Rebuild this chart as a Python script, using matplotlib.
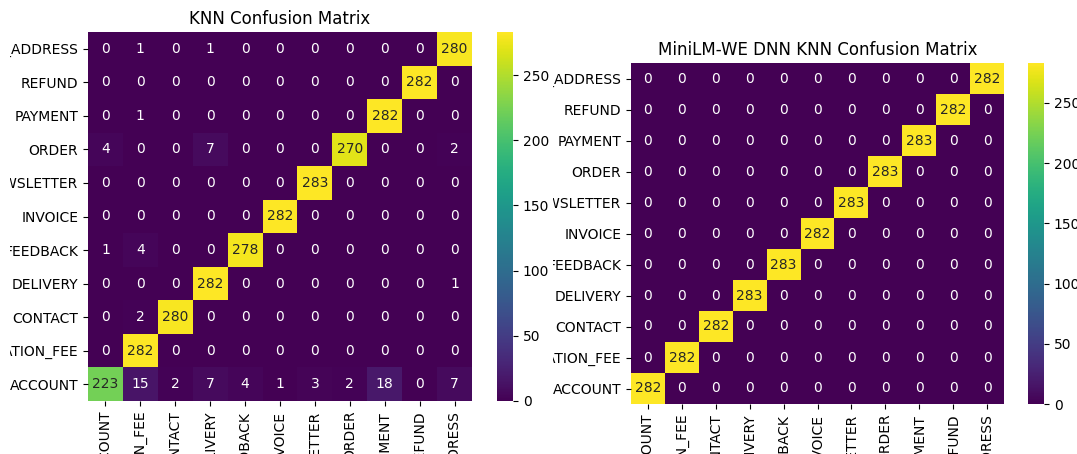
import numpy as np
import matplotlib
matplotlib.use("Agg")
import matplotlib.pyplot as plt
from matplotlib import colors as mcolors
from matplotlib.transforms import Bbox, TransformedBbox

etiquetas = ["ACCOUNT", "CANCELLATION_FEE", "CONTACT", "DELIVERY", "FEEDBACK",
             "INVOICE", "NEWSLETTER", "ORDER", "PAYMENT", "REFUND",
             "SHIPPING_ADDRESS"]

# filas = clase real, columnas = clase predicha
cm_knn = np.array([
    [223, 15, 2, 7, 4, 1, 3, 2, 18, 0, 7],
    [0, 282, 0, 0, 0, 0, 0, 0, 0, 0, 0],
    [0, 2, 280, 0, 0, 0, 0, 0, 0, 0, 0],
    [0, 0, 0, 282, 0, 0, 0, 0, 0, 0, 1],
    [1, 4, 0, 0, 278, 0, 0, 0, 0, 0, 0],
    [0, 0, 0, 0, 0, 282, 0, 0, 0, 0, 0],
    [0, 0, 0, 0, 0, 0, 283, 0, 0, 0, 0],
    [4, 0, 0, 7, 0, 0, 0, 270, 0, 0, 2],
    [0, 1, 0, 0, 0, 0, 0, 0, 282, 0, 0],
    [0, 0, 0, 0, 0, 0, 0, 0, 0, 282, 0],
    [0, 1, 0, 1, 0, 0, 0, 0, 0, 0, 280],
])

diag_minilm = [282, 282, 282, 283, 283, 282, 283, 283, 283, 282, 282]
cm_minilm = np.diag(diag_minilm)


def luminancia(rgba):
    rgb = np.array(rgba[:3])
    rgb = np.where(rgb <= .03928, rgb / 12.92, ((rgb + .055) / 1.055) ** 2.4)
    return rgb.dot([.2126, .7152, .0722])


def dibujar_matriz(fig, rect, rect_cb, cm, titulo, borde_izq):
    ax = fig.add_axes(rect)
    cax = fig.add_axes(rect_cb)
    n = cm.shape[0]
    cmap = plt.get_cmap("viridis")
    norm = mcolors.Normalize(vmin=cm.min(), vmax=cm.max())
    mesh = ax.pcolormesh(np.arange(n + 1), np.arange(n + 1), cm,
                         cmap=cmap, norm=norm)
    ax.set_xlim(0, n)
    ax.set_ylim(0, n)
    for i in range(n):
        for j in range(n):
            color = cmap(norm(cm[i, j]))
            texto = ".15" if luminancia(color) > .408 else "w"
            ax.text(j + 0.5, i + 0.5, str(cm[i, j]), ha="center",
                    va="center", color=texto, fontsize=10)
    ax.set_xticks(np.arange(n) + 0.5)
    ax.set_xticklabels(etiquetas, rotation=90)
    ax.set_yticks(np.arange(n) + 0.5)
    ax.set_yticklabels(etiquetas)
    # las etiquetas largas se recortan en el borde izquierdo del panel
    recorte = TransformedBbox(Bbox.from_extents(borde_izq / W, 0, 1, 1),
                              fig.transFigure)
    for t in ax.get_yticklabels():
        t.set_clip_on(True)
        t.set_clip_box(recorte)
    for s in ax.spines.values():
        s.set_visible(False)
    ax.set_title(titulo, fontsize=12)
    cb = fig.colorbar(mesh, cax=cax)
    cb.outline.set_visible(False)
    cb.set_ticks([0, 50, 100, 150, 200, 250])
    return ax


W, H = 1077, 454
fig = plt.figure(figsize=(W / 100, H / 100), dpi=100)


def px(x0, y0, x1, y1):
    return [x0 / W, 1 - y1 / H, (x1 - x0) / W, (y1 - y0) / H]


dibujar_matriz(fig, px(88, 32, 472, 401), px(497, 32, 513, 401),
               cm_knn, "KNN Confusion Matrix", 10)
dibujar_matriz(fig, px(631, 63, 1004, 404), px(1028, 63, 1044, 404),
               cm_minilm, "MiniLM-WE DNN KNN Confusion Matrix", 553)

fig.savefig("out.png", dpi=100)
